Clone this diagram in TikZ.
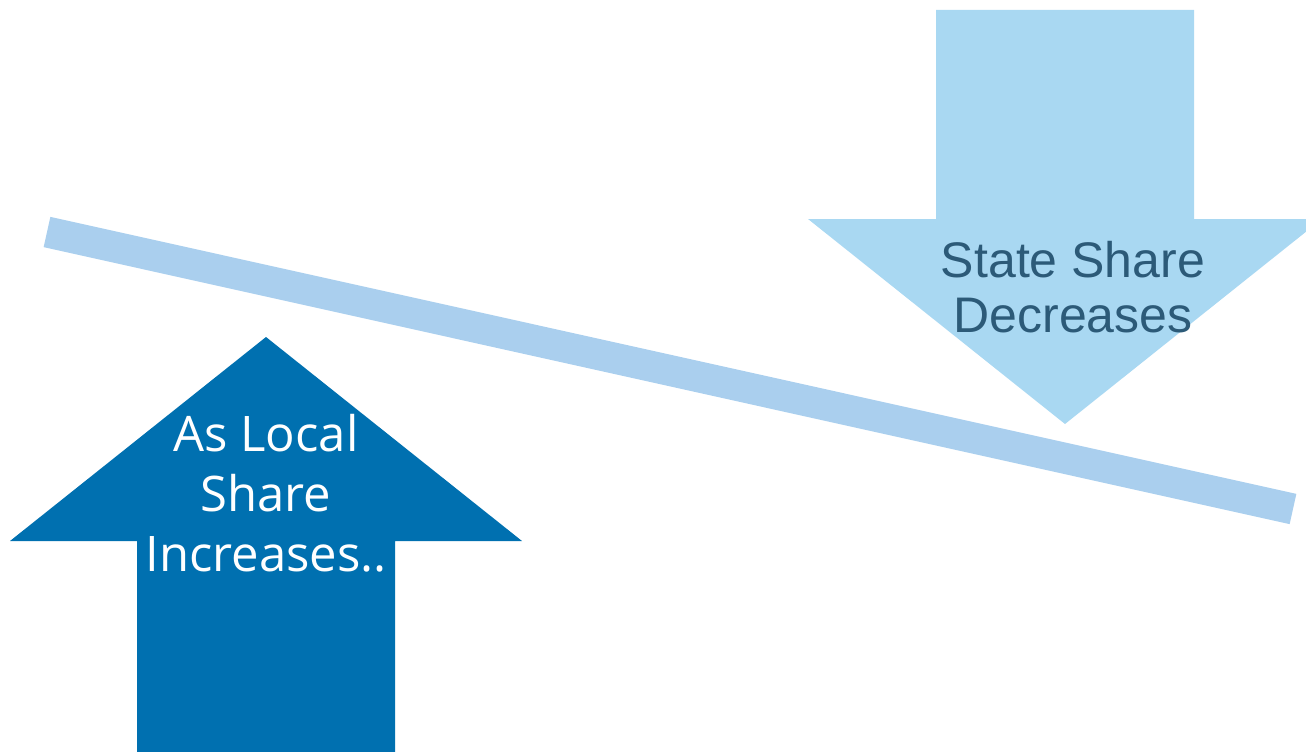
\documentclass[tikz,border=0pt]{standalone}
\usepackage{fontspec}
\newfontfamily\localfont{Open Sans}
\newfontfamily\statefont{Liberation Sans}
\definecolor{localblue}{HTML}{0070B0}
\definecolor{stateblue}{HTML}{A9D8F2}
\definecolor{beamblue}{HTML}{AACFEE}
\definecolor{statetext}{HTML}{2C5A78}
\begin{document}
\begin{tikzpicture}[x=1pt,y=-1pt,line join=miter,
  lbl/.style={inner sep=0pt,align=center}]
\useasboundingbox (0,0) rectangle (1306,752);
\clip (0,0) rectangle (1306,752);
\coordinate (beamL) at (47,232);
\coordinate (beamR) at (1293,509);
\draw[beamblue,line width=31pt] (beamL)--(beamR);
\fill[stateblue] (936,10)--(1194,10)--(1194,219)--(1322,219)--(1065,424)--(808,219)--(936,219)--cycle;
\fill[localblue] (137,752)--(137,541)--(10,541)--(266,337)--(522,541)--(395,541)--(395,752)--cycle;
\node[lbl,white,font=\localfont\fontsize{49}{60}\selectfont] (local) at (266,493) {As Local\\Share\\Increases..};
\node[lbl,statetext,font=\statefont\fontsize{50}{55}\selectfont] (state) at (1073,287) {State Share\\Decreases};
\end{tikzpicture}
\end{document}
